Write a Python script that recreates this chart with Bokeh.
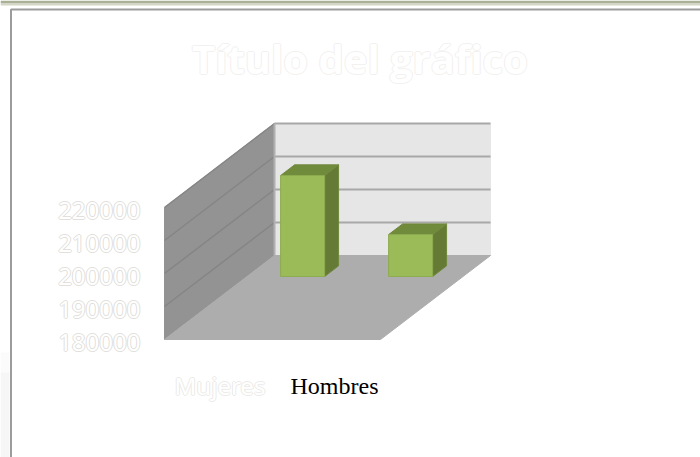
from bokeh.plotting import figure
from bokeh.models import Range1d
from bokeh.core.properties import value
from bokeh.embed import file_html
from bokeh.resources import INLINE

title_text = "Título del gráfico"
categories = ["Mujeres", "Hombres"]
category_colors = ["#ffffff", "#000000"]
series_values = [210600, 192700]
tick_values = [180000, 190000, 200000, 210000, 220000]

# oblique projection of the 3D box
W, H = 700, 457
PX_X = 108.0            # pixels per category
PX_Y = 33.0 / 10000     # pixels per value unit
X0, Y0 = 164, 339       # pixel position of origin inside the figure
DEPTH_X = 110 / PX_X
DEPTH_Y = 84 / PX_Y
BASE = tick_values[0]
TOP = tick_values[-1]
NCAT = len(categories)


def px(c, d=0.0):
    return c + d * DEPTH_X


def py(v, d=0.0):
    return v + d * DEPTH_Y


def sx(x):
    return (x - X0) / PX_X


def sy(y):
    return BASE + (Y0 - y) / PX_Y


p = figure(width=W, height=H, output_backend="svg", toolbar_location=None,
           min_border=0, outline_line_color=None, background_fill_color="#ffffff",
           border_fill_color="#ffffff",
           x_range=Range1d(sx(0), sx(W)), y_range=Range1d(sy(H), sy(0)))
p.axis.visible = False
p.grid.visible = False

# surrounding page furniture
p.quad(left=[sx(0)], right=[sx(W)], top=[sy(0)], bottom=[sy(3)], fill_color="#a9b095", line_color=None)
p.quad(left=[sx(0)], right=[sx(W)], top=[sy(3)], bottom=[sy(5)], fill_color="#d3d6c4", line_color=None)
p.quad(left=[sx(0)], right=[sx(9)], top=[sy(352)], bottom=[sy(372)], fill_color="#fbfbfb", line_color=None)
p.quad(left=[sx(0)], right=[sx(9)], top=[sy(372)], bottom=[sy(H)], fill_color="#f6f6f6", line_color=None)
p.line([sx(10.5), sx(10.5), sx(W)], [sy(H), sy(9), sy(9)], line_color="#9c9c9c", line_width=2)


def face(cs, ds, vs, color, line=None, lw=1):
    p.patch([px(c, d) for c, d in zip(cs, ds)], [py(v, d) for v, d in zip(vs, ds)],
            fill_color=color, line_color=line or color, line_width=lw)


# walls and floor
face([0, 0, NCAT, NCAT], [1, 1, 1, 1], [BASE, TOP, TOP, BASE], "#e6e6e6")
face([0, 0, 0, 0], [0, 1, 1, 0], [BASE, BASE, TOP, TOP], "#939393")
face([0, NCAT, NCAT, 0], [0, 0, 1, 1], [BASE, BASE, BASE, BASE], "#adadad")

# gridlines
for t in tick_values[1:]:
    p.line([px(0, 1), px(NCAT, 1)], [py(t, 1), py(t, 1)], line_color="#a8a8a8", line_width=2)
    p.line([px(0, 0), px(0, 1)], [py(t, 0), py(t, 1)], line_color="#858585", line_width=1.5)
p.line([px(0, 1), px(0, 1)], [py(BASE, 1), py(TOP, 1)], line_color="#b0b0b0", line_width=2)

# bars
BAR_W = 44 / PX_X
BAR_D0 = 0.75
BAR_D1 = 0.877
for i, v in enumerate(series_values):
    c0 = i + 0.5 - BAR_W / 2 + 0.015
    c1 = c0 + BAR_W
    face([c1, c1, c1, c1], [BAR_D0, BAR_D1, BAR_D1, BAR_D0], [BASE, BASE, v, v], "#647a35", "#70883c")
    face([c0, c1, c1, c0], [BAR_D0, BAR_D0, BAR_D1, BAR_D1], [v, v, v, v], "#6f8b3b", "#70883c")
    face([c0, c0, c1, c1], [BAR_D0, BAR_D0, BAR_D0, BAR_D0], [BASE, v, v, BASE], "#9bbb59", "#8dab4f", 1)


def ghost(x, y, txt, font, size, weight, align, edge):
    for dx, dy in [(-1, 0), (1, 0), (0, -1), (0, 1)]:
        p.text([x], [y], text=[txt], text_font=value(font), text_font_size=size,
               text_font_style=weight, text_align=align, text_baseline="middle",
               text_color=edge, x_offset=dx, y_offset=dy)
    p.text([x], [y], text=[txt], text_font=value(font), text_font_size=size,
           text_font_style=weight, text_align=align, text_baseline="middle",
           text_color="#ffffff")


# title
ghost(sx(359.5), sy(58), title_text, "Open Sans", "40px", "bold", "center", "#f3f1ef")

# value labels
for t in tick_values:
    ghost(sx(140), t - 3 / PX_Y, str(t), "Noto Sans", "24px", "normal", "right", "#e2dfdc")

# category labels
ghost(sx(219.5), sy(385), categories[0], "Noto Sans", "24px", "normal", "center", "#ecebe9")
p.text([sx(334)], [sy(385)], text=[categories[1]], text_font=value("Liberation Serif"),
       text_font_size="24px", text_align="center", text_baseline="middle",
       text_color=category_colors[1])

open("out.html", "w").write(file_html(p, INLINE))
